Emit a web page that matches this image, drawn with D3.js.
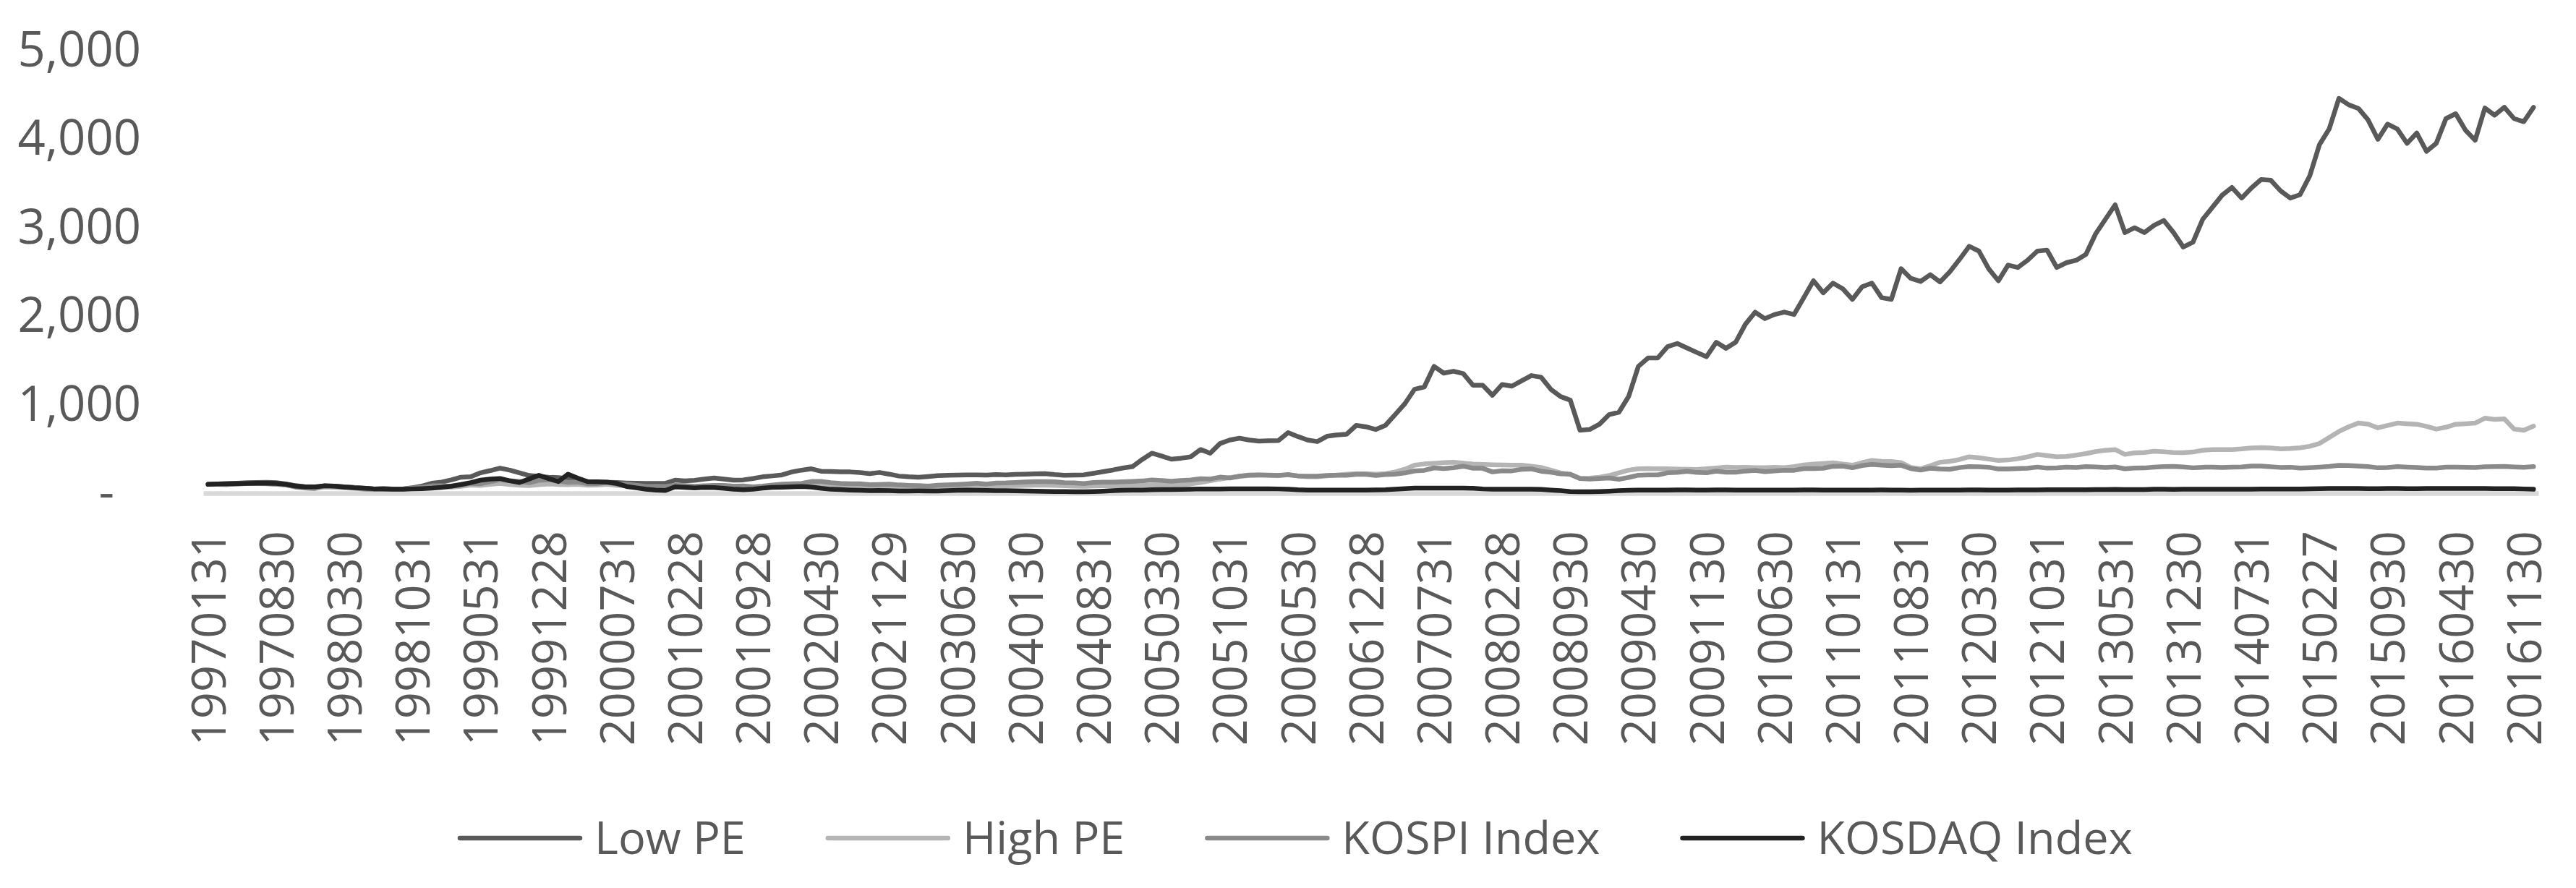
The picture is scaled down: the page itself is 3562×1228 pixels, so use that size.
<!DOCTYPE html>
<html>
<head>
<meta charset="utf-8">
<script src="https://cdn.jsdelivr.net/npm/d3@7"></script>
<style>
  html, body { margin: 0; padding: 0; background: #ffffff; }
  svg { display: block; }
  text { font-family: "Open Sans", "Liberation Sans", sans-serif; fill: #595959; }
</style>
</head>
<body>
<svg id="chart" width="3562" height="1228"></svg>
<script>
// ---------- DATA ----------
const seriesNames = ["Low PE", "High PE", "KOSPI Index", "KOSDAQ Index"];
const seriesColors = ["#595959", "#b4b4b4", "#8a8a8a", "#222222"];

// tick labels shown on the x axis (every 7th month)
const tickLabels = ["19970131","19970830","19980330","19981031","19990531","19991228","20000731",
  "20010228","20010928","20020430","20021129","20030630","20040130","20040831","20050330",
  "20051031","20060530","20061228","20070731","20080228","20080930","20090430","20091130",
  "20100630","20110131","20110831","20120330","20121031","20130531","20131230","20140731",
  "20150227","20150930","20160430","20161130"];

const yTicks = [0, 1000, 2000, 3000, 4000, 5000];

// monthly categories Jan 1997 .. Dec 2016
const categories = [];
for (let yr = 1997; yr <= 2016; yr++) for (let m = 1; m <= 12; m++) categories.push(yr + String(m).padStart(2, "0"));

const lowPE = [100,105,108,112,118,120,122,118,105,85,
72,68,80,78,72,65,55,48,52,46,
48,62,80,112,125,150,180,185,230,255,
283,260,229,200,190,180,175,166,150,131,
125,122,120,115,112,110,110,112,147,139,
145,160,172,160,147,150,165,185,195,207,
240,260,275,248,245,242,240,232,221,234,
215,193,185,180,188,198,202,205,207,207,
205,210,207,212,215,218,221,210,202,205,
207,225,243,262,284,300,380,452,420,384,
395,411,493,452,561,600,621,600,589,592,
594,684,640,600,583,643,657,665,766,750,
719,766,888,1011,1174,1201,1433,1356,1378,1351,
1220,1220,1106,1228,1209,1269,1329,1310,1174,1092,
1051,711,720,779,888,915,1092,1433,1528,1528,
1656,1691,1640,1590,1542,1705,1637,1705,1909,2045,
1972,2019,2046,2019,2209,2400,2264,2373,2310,2190,
2332,2373,2209,2190,2536,2427,2392,2468,2386,2500,
2640,2789,2735,2536,2400,2577,2550,2631,2735,2746,
2550,2604,2631,2699,2931,3094,3258,2944,2999,2944,
3026,3081,2944,2781,2836,3094,3230,3367,3454,3334,
3448,3544,3535,3416,3334,3372,3584,3938,4115,4461,
4388,4347,4216,3998,4170,4115,3952,4069,3862,3952,
4232,4287,4102,3987,4352,4270,4360,4232,4197,4360];

const highPE = [100,102,100,104,108,108,106,100,92,68,
58,52,70,66,60,55,44,40,46,42,
42,52,58,70,72,68,78,92,88,100,
110,98,90,85,95,105,98,95,100,90,
92,100,88,85,78,68,70,68,78,75,
70,74,76,75,70,70,62,68,75,80,
82,85,95,96,88,82,80,80,74,76,
78,72,68,66,62,66,70,74,78,82,
80,84,84,86,88,90,90,88,84,80,
78,82,84,84,84,85,88,94,92,90,
95,105,120,140,160,175,190,200,205,205,
200,207,195,185,186,195,205,215,220,221,
215,221,240,270,316,330,338,345,349,340,
329,325,321,318,316,316,305,290,261,230,
210,166,170,180,200,230,260,275,278,275,
275,272,270,267,275,285,294,290,292,289,
289,292,289,300,318,329,335,343,330,316,
345,370,360,357,345,290,275,310,349,360,
380,411,400,385,370,375,389,410,438,425,
411,415,430,447,470,485,493,438,455,460,
474,468,460,457,465,485,493,493,493,500,
510,515,510,501,505,512,530,561,630,697,
750,792,780,738,765,792,785,779,755,724,
745,779,785,792,847,833,840,724,711,757];

const kospi = [100,100,97,104,110,110,108,103,96,70,60,56,
84,77,71,64,49,44,53,46,46,60,66,83,
84,77,91,111,107,131,152,140,132,118,144,152,
139,123,127,107,108,122,104,102,91,76,78,75,
88,85,77,83,88,88,80,81,71,79,93,103,
107,111,132,133,118,110,106,106,96,99,102,93,
88,85,79,89,94,99,105,112,103,115,116,120,
126,130,131,128,119,116,109,120,124,125,129,133,
138,150,143,135,143,149,164,160,181,171,192,204,
207,203,201,210,195,192,192,200,203,202,212,212,
201,210,215,228,251,258,286,277,288,305,282,281,
240,253,252,270,274,248,236,218,214,165,159,166,
172,157,178,203,206,206,230,235,247,234,230,249,
237,236,250,258,243,251,260,258,277,278,282,303,
306,287,312,324,317,311,316,278,262,282,273,270,
289,300,298,293,273,274,278,282,295,283,286,295,
290,300,297,290,296,276,283,285,295,300,303,297,
287,293,294,290,295,296,307,306,299,291,293,283,
288,294,302,315,313,307,300,287,290,300,295,290,
283,284,295,295,293,291,298,301,302,297,293,300];

const kosdaq = [100,104,106,108,110,112,112,110,100,80,
71,72,84,80,70,62,57,50,46,44,
44,48,52,57,65,80,98,120,147,160,
166,140,120,160,202,165,131,215,170,131,
128,125,110,76,60,45,35,30,71,65,
60,65,63,55,45,38,45,57,65,68,
71,75,70,55,44,40,35,32,28,30,
28,25,25,26,25,25,28,32,34,32,
30,28,28,26,25,22,20,18,18,16,
16,18,22,28,32,35,35,38,40,40,
42,45,48,48,48,49,50,50,50,49,
48,45,38,35,35,35,35,35,35,35,
36,38,45,52,57,57,58,58,57,57,
55,48,44,44,45,45,44,42,35,28,
18,16,16,18,22,28,32,35,35,35,
35,36,36,35,35,36,36,35,35,35,
35,35,34,35,36,36,35,35,34,35,
35,35,36,35,34,33,34,35,35,35,
35,36,36,35,35,35,36,36,37,38,
38,38,39,39,40,41,42,40,41,41,
44,44,43,44,44,45,44,44,45,45,
45,46,46,46,46,47,50,52,54,54,
54,53,52,52,53,53,52,52,53,53,
53,54,54,54,53,52,52,52,48,44];

const seriesValues = [lowPE, highPE, kospi, kosdaq];

// ---------- CHART ----------
const svg = d3.select("#chart");
svg.append("rect").attr("width", 3562).attr("height", 1228).attr("fill", "#ffffff");

const x = d3.scalePoint().domain(d3.range(categories.length)).range([281, 3510]).padding(0.5);
const y = d3.scaleLinear().domain([0, 5000]).range([682, 70]);

// Y axis
const yAxis = svg.append("g").attr("transform", "translate(281,0)")
  .call(d3.axisLeft(y).tickValues(yTicks).tickSize(0).tickPadding(86)
    .tickFormat(v => v === 0 ? "-" : d3.format(",")(v)));
yAxis.select(".domain").remove();
yAxis.selectAll("text")
  .style("font-family", "'Open Sans', sans-serif")
  .style("font-size", "67px")
  .attr("fill", "#595959")
  .attr("x", v => v === 0 ? -123 : -86);

// X axis
const xAxis = svg.append("g").attr("transform", `translate(0,${y(0)})`)
  .call(d3.axisBottom(x).tickValues(d3.range(0, categories.length, 7)).tickSize(0).tickSizeOuter(0)
    .tickFormat(i => tickLabels[i / 7]));
xAxis.select(".domain").attr("stroke", "#d9d9d9").attr("stroke-width", 6.5);
xAxis.selectAll("text")
  .style("font-family", "'Open Sans', sans-serif")
  .style("font-size", "65px")
  .attr("fill", "#595959")
  .attr("transform", "rotate(-90)")
  .attr("text-anchor", "end")
  .attr("x", -52)
  .attr("y", 0)
  .attr("dy", "0.36em");

// Lines
const line = d3.line().x((d, i) => x(i)).y(d => y(d));
svg.append("g").selectAll("path")
  .data(seriesValues)
  .join("path")
  .attr("d", d => line(d))
  .attr("fill", "none")
  .attr("stroke", (d, i) => seriesColors[i])
  .attr("stroke-width", 6.5)
  .attr("stroke-linejoin", "round")
  .attr("stroke-linecap", "round");

// Legend
const legend = svg.append("g");
let lx = 636;
seriesNames.forEach((name, i) => {
  legend.append("line")
    .attr("x1", lx).attr("x2", lx + 166).attr("y1", 1159).attr("y2", 1159)
    .attr("stroke", seriesColors[i]).attr("stroke-width", 6.5).attr("stroke-linecap", "round");
  const t = legend.append("text")
    .attr("x", lx + 186).attr("y", 1181)
    .style("font-size", "63px")
    .attr("fill", "#595959")
    .text(name);
  const w = t.node().getComputedTextLength();
  lx = lx + 186 + w + 114;
});
</script>
</body>
</html>
